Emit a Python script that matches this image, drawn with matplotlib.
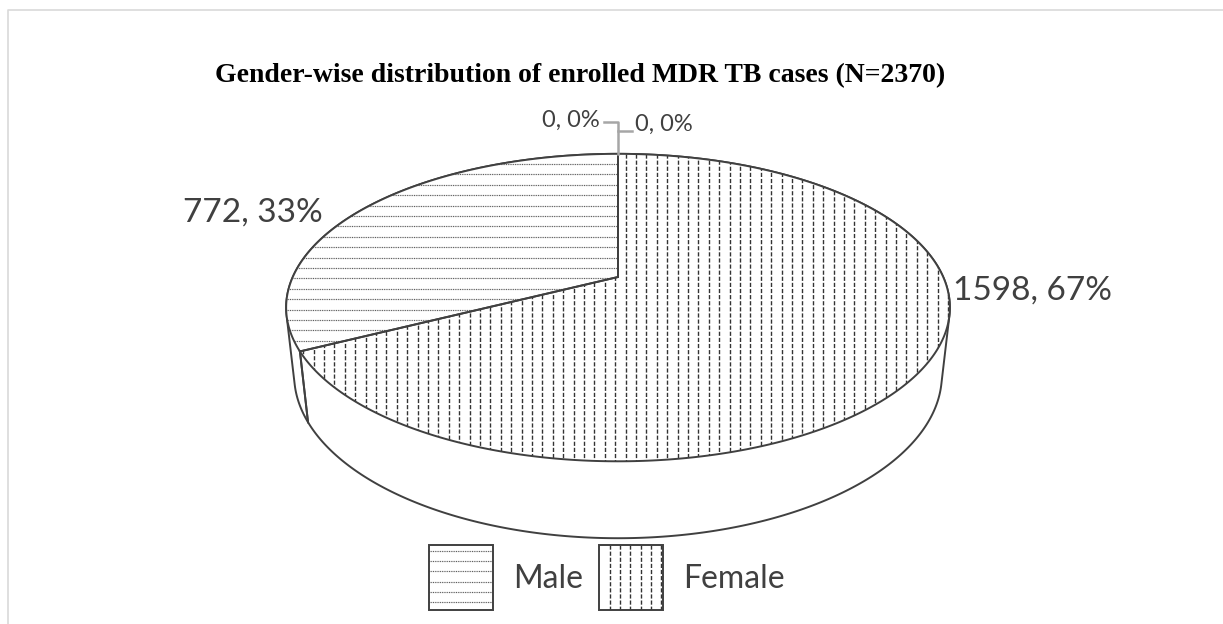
import numpy as np
import matplotlib.pyplot as plt
from matplotlib.patches import Polygon, Rectangle

W, H = 1223, 624

title = "Gender-wise distribution of enrolled MDR TB cases (N=2370)"
names = ["Male", "Female", "", ""]
values = [772, 1598, 0, 0]
hatch_kind = ["h", "v", "h", "v"]

# slices are laid out clockwise: Male, the two empty ones, then Female
draw_order = [0, 2, 3, 1]

# 3d pie projection (pixel space)
CX, CY = 618, 277
TILT = np.radians(27)
DIST = 4.48
FOC = 1457
DEPTH = 0.234
EDGE = "#404040"


def proj(phi, z=0.0):
    phi = np.radians(np.asarray(phi, float))
    X = np.cos(phi)
    Y = -np.sin(phi)
    dep = DIST - Y * np.cos(TILT) - z * np.sin(TILT)
    return CX + FOC * X / dep, CY + FOC * (Y * np.sin(TILT) - z * np.cos(TILT)) / dep


def hull(pts):
    pts = sorted(set(pts))
    def cross(o, a, b):
        return (a[0] - o[0]) * (b[1] - o[1]) - (a[1] - o[1]) * (b[0] - o[0])
    lower, upper = [], []
    for p in pts:
        while len(lower) >= 2 and cross(lower[-2], lower[-1], p) <= 0:
            lower.pop()
        lower.append(p)
    for p in reversed(pts):
        while len(upper) >= 2 and cross(upper[-2], upper[-1], p) <= 0:
            upper.pop()
        upper.append(p)
    return lower[:-1] + upper[:-1]


def grid(lo, hi, anchor, step):
    k0 = np.ceil((lo - anchor) / step)
    k1 = np.floor((hi - anchor) / step)
    return anchor + step * np.arange(k0, k1 + 1)


def hatch(ax, patch, kind, x0, x1, y0, y1, anchor, step=10.4):
    if kind == "h":
        lc = ax.hlines(grid(y0 + 3, y1, anchor, step), x0, x1, colors="#555555",
                       linewidth=0.85, linestyles=[(0, (0.8, 0.7))], zorder=3)
    else:
        lc = ax.vlines(grid(x0 + 3, x1, anchor, step), y0, y1, colors="#333333",
                       linewidth=1.0, linestyles=[(0, (3.0, 1.4))], zorder=3)
    lc.set_clip_path(patch)


fig = plt.figure(figsize=(W / 100, H / 100), dpi=100)
ax = fig.add_axes([0, 0, 1, 1])
ax.set_xlim(0, W)
ax.set_ylim(H, 0)
ax.axis("off")

# chart area border (cut off at right and bottom)
ax.plot([8, 8, W], [H, 10, 10], color="#d9d9d9", lw=1.2, zorder=0)

ax.text(580, 76, title, ha="center", va="center", fontsize=20,
        fontweight="bold", family="Liberation Serif", color="black")

total = sum(values)
start = 90 + 360 * values[0] / total
angles = {}
cur = start
for i in draw_order:
    a1 = cur
    a2 = cur - 360 * values[i] / total
    angles[i] = (a1, a2)
    cur = a2

# side of the cylinder
ring = np.linspace(0, 360, 721)
tx, ty = proj(ring)
bx, by = proj(ring, -DEPTH)
pts = [(float(a), float(b)) for a, b in zip(tx, ty)] + \
      [(float(a), float(b)) for a, b in zip(bx, by)]
side = Polygon(hull(pts), closed=True, facecolor="white", edgecolor=EDGE,
               lw=1.4, zorder=1)
ax.add_patch(side)

# slice boundaries on the front side
for i in draw_order:
    for a in angles[i]:
        if np.sin(np.radians(a)) < -0.05:
            x0, y0 = proj(a)
            x1, y1 = proj(a, -DEPTH)
            ax.plot([x0, x1], [y0, y1], color=EDGE, lw=1.4, zorder=2)

# top faces
for i in draw_order:
    if values[i] == 0:
        continue
    a1, a2 = angles[i]
    arc = np.linspace(a1, a2, 400)
    ax_, ay_ = proj(arc)
    poly = [(CX, CY)] + list(zip(ax_, ay_))
    face = Polygon(poly, closed=True, facecolor="white", edgecolor="none", zorder=2)
    ax.add_patch(face)
    xs = [p[0] for p in poly]
    ys = [p[1] for p in poly]
    anchor = 164 if hatch_kind[i] == "h" else CX + 7.5
    hatch(ax, face, hatch_kind[i], min(xs), max(xs), min(ys), max(ys), anchor)
    ax.add_patch(Polygon(poly, closed=True, facecolor="none", edgecolor=EDGE,
                         lw=1.4, zorder=4))

# data labels
def lab(i):
    return f"{values[i]}, {round(100 * values[i] / total)}%"

ax.text(323, 213, lab(0), ha="right", va="center", fontsize=24,
        family="Lato", color=EDGE)
ax.text(953, 291, lab(1), ha="left", va="center", fontsize=24,
        family="Lato", color=EDGE)

# labels of the empty slices with leader lines
topx, topy = proj(90)
ax.plot([604, topx, topx], [122, 122, topy], color="#a6a6a6", lw=1.8, zorder=5)
ax.plot([topx, 632], [131, 131], color="#a6a6a6", lw=1.8, zorder=5)
ax.text(600, 120, lab(2), ha="right", va="center", fontsize=17,
        family="Lato", color=EDGE)
ax.text(635, 124, lab(3), ha="left", va="center", fontsize=17,
        family="Lato", color=EDGE)

# legend
leg_x = [429, 599]
for k, i in enumerate([0, 1]):
    x0 = leg_x[k]
    box = Rectangle((x0, 545), 64, 65, facecolor="white", edgecolor="none", zorder=2)
    ax.add_patch(box)
    anchor = 551 if hatch_kind[i] == "h" else x0 + 11
    hatch(ax, box, hatch_kind[i], x0, x0 + 64, 545, 610, anchor, step=10.2)
    ax.add_patch(Rectangle((x0, 545), 64, 65, facecolor="none", edgecolor=EDGE,
                           lw=1.4, zorder=4))
    ax.text(x0 + 84, 579, names[i], ha="left", va="center", fontsize=23,
            family="Lato", color=EDGE)

fig.savefig("out.png", dpi=100)
